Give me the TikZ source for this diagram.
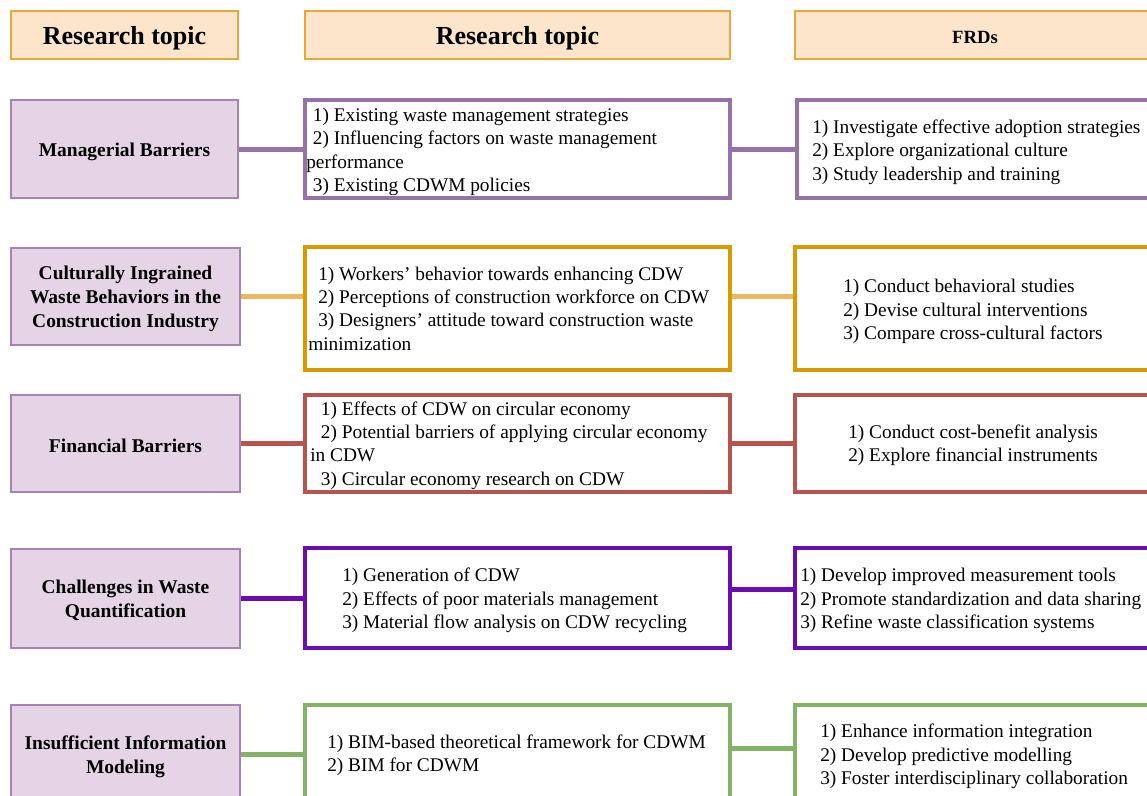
\documentclass[tikz,border=0pt]{standalone}
\usepackage{fontspec}
\setmainfont{Liberation Serif}
\usetikzlibrary{fit,calc}
\definecolor{hdrfill}{HTML}{FDE5CB}
\definecolor{hdrdraw}{HTML}{E8A838}
\definecolor{topicfill}{HTML}{E4D4E6}
\definecolor{topicdraw}{HTML}{A583B5}
\definecolor{cpurple}{HTML}{9673A6}
\definecolor{corange}{HTML}{D79B00}
\definecolor{corangelt}{HTML}{E9B860}
\definecolor{cred}{HTML}{B85450}
\definecolor{cviolet}{HTML}{6A0DB0}
\definecolor{cgreen}{HTML}{82B366}
\tikzset{
  hdr/.style={draw=hdrdraw, fill=hdrfill, line width=1.5pt, inner sep=0pt},
  hdrtext/.style={inner sep=0pt, font=\bfseries\fontsize{19.5}{23}\selectfont},
  hdrsmall/.style={inner sep=0pt, font=\bfseries\fontsize{14}{17}\selectfont},
  topic/.style={draw=topicdraw, fill=topicfill, line width=1.2pt, inner sep=0pt},
  topictext/.style={inner sep=0pt, align=center, font=\bfseries\fontsize{14.6}{18}\selectfont},
  itembox/.style={fill=white, line width=3pt, inner sep=0pt},
  item/.style={anchor=west, align=left, inner sep=0pt, font=\fontsize{14.5}{17.5}\selectfont},
  conn/.style={line width=3.75pt}
}
\newcommand{\ind}{\hspace*{5pt}}
\begin{document}
\begin{tikzpicture}[x=0.75pt,y=-0.75pt]
\useasboundingbox (0,0) rectangle (1147,796);
\clip (0,0) rectangle (1147,796);
\fill[white] (0,0) rectangle (1147,796);

% headers
\node[hdr, fit={(11,11) (238,59)}] (H1) {};
\node[hdr, fit={(305,11) (730,59)}] (H2) {};
\node[hdr, fit={(795,11) (1155,59)}] (H3) {};
\node[hdrtext] (H1t) at ([yshift=-2.5pt]H1.center) {Research topic};
\node[hdrtext] (H2t) at ([yshift=-2.5pt]H2.center) {Research topic};
\node[hdrsmall] (H3t) at ([yshift=-1.5pt]H3.center) {FRDs};

% row 1
\node[topic, fit={(11,100) (238,198)}] (L1) {};
\node[topictext] (L1t) at ([yshift=-2.2pt]L1.center) {Managerial Barriers};
\node[itembox, draw=cpurple, fit={(305,100) (730,198)}] (M1) {};
\node[itembox, draw=cpurple, fit={(797,100) (1155,198)}] (R1) {};
\node[item] (M1t) at (306,152) {\ind 1) Existing waste management strategies\\ \ind 2) Influencing factors on waste management\\performance\\ \ind 3) Existing CDWM policies};
\node[item] (R1t) at (812,152) {1) Investigate effective adoption strategies\\2) Explore organizational culture\\3) Study leadership and training};
\draw[conn, cpurple] (L1.east) -- (M1.west);
\draw[conn, cpurple] (M1.east) -- (R1.west);

% row 2
\node[topic, fit={(11,248) (240,345)}] (L2) {};
\node[topictext] (L2t) at ([yshift=-1.5pt]L2.center) {Culturally Ingrained\\Waste Behaviors in the\\Construction Industry};
\node[itembox, draw=corange, fit={(305,247) (730,370)}] (M2) {};
\node[itembox, draw=corange, fit={(795,247) (1155,370)}] (R2) {};
\node[item] (M2t) at (308,308.5) {\hspace*{7.5pt}1) Workers' behavior towards enhancing CDW\\ \hspace*{7.5pt}2) Perceptions of construction workforce on CDW\\ \hspace*{7.5pt}3) Designers' attitude toward construction waste\\minimization};
\node[item] (R2t) at (843,311.5) {1) Conduct behavioral studies\\2) Devise cultural interventions\\3) Compare cross-cultural factors};
\draw[conn, corangelt] (L2.east) -- (L2.east -| M2.west);
\draw[conn, corangelt] (M2.east |- L2.east) -- (R2.west |- L2.east);

% row 3
\node[topic, fit={(11,395) (240,492)}] (L3) {};
\node[topictext] (L3t) at ([yshift=-1.5pt]L3.center) {Financial Barriers};
\node[itembox, draw=cred, fit={(305,395) (730,492)}] (M3) {};
\node[itembox, draw=cred, fit={(795,395) (1155,492)}] (R3) {};
\node[item] (M3t) at (310,445.5) {\hspace*{8pt}1) Effects of CDW on circular economy\\ \hspace*{8pt}2) Potential barriers of applying circular economy\\in CDW\\ \hspace*{8pt}3) Circular economy research on CDW};
\node[item] (R3t) at (848,445.5) {1) Conduct cost-benefit analysis\\2) Explore financial instruments};
\draw[conn, cred] (L3.east) -- (M3.west);
\draw[conn, cred] (M3.east) -- (R3.west);

% row 4
\node[topic, fit={(11,549) (240,648)}] (L4) {};
\node[topictext] (L4t) at ([yshift=-1.5pt]L4.center) {Challenges in Waste\\Quantification};
\node[itembox, draw=cviolet, fit={(305,548) (730,648)}] (M4) {};
\node[itembox, draw=cviolet, fit={(795,548) (1155,648)}] (R4) {};
\node[item] (M4t) at (342,600.5) {1) Generation of CDW\\2) Effects of poor materials management\\3) Material flow analysis on CDW recycling};
\node[item] (R4t) at (800,600.5) {1) Develop improved measurement tools\\2) Promote standardization and data sharing\\3) Refine waste classification systems};
\draw[conn, cviolet] (L4.east) -- (L4.east -| M4.west);
\draw[conn, cviolet] ([yshift=6.75pt]M4.east) -- ([yshift=6.75pt]R4.west);

% row 5
\node[topic, fit={(11,705) (240,804)}] (L5) {};
\node[topictext] (L5t) at ([yshift=-2pt]L5.center) {Insufficient Information\\Modeling};
\node[itembox, draw=cgreen, fit={(305,705) (730,804)}] (M5) {};
\node[itembox, draw=cgreen, fit={(795,705) (1155,804)}] (R5) {};
\node[item] (M5t) at (327,755.5) {1) BIM-based theoretical framework for CDWM\\2) BIM for CDWM};
\node[item] (R5t) at (820,756.5) {1) Enhance information integration\\2) Develop predictive modelling\\3) Foster interdisciplinary collaboration};
\draw[conn, cgreen] (L5.east) -- (L5.east -| M5.west);
\draw[conn, cgreen] ([yshift=4.5pt]M5.east) -- ([yshift=4.5pt]R5.west);
\end{tikzpicture}
\end{document}
